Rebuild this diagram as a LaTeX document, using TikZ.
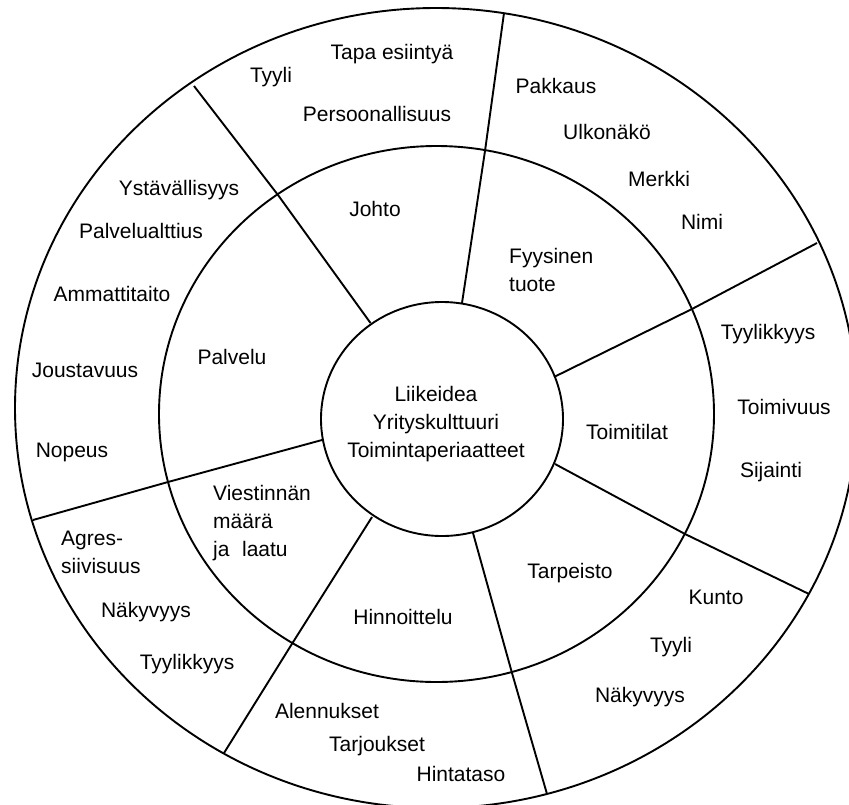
\documentclass[tikz,border=0pt]{standalone}
\usepackage{fontspec}
\setmainfont{Liberation Sans}
\begin{document}
\begin{tikzpicture}[x=1pt,y=-1pt,
  ring/.style={line width=1.9pt},
  spoke/.style={line width=1.9pt, line join=round},
  lbl/.style={font=\fontsize{21}{28}\selectfont, inner sep=0pt, align=center},
  lbll/.style={lbl, align=left, anchor=west}]
\useasboundingbox (0,0) rectangle (849,804);
\clip (0,0) rectangle (849,804);
% rings
\draw[ring] (436,408) ellipse [x radius=421pt, y radius=400pt];
\draw[ring] (436.5,414) ellipse [x radius=277.5pt, y radius=268pt];
\draw[ring] (442,419) ellipse [x radius=121pt, y radius=117pt];
% spoke points
\coordinate (i1) at (370.5,323); \coordinate (m1) at (278,195); \coordinate (o1) at (194,86);
\coordinate (i2) at (462,303);   \coordinate (m2) at (485,151); \coordinate (o2) at (504,13);
\coordinate (i3) at (554,377);   \coordinate (m3) at (692,309); \coordinate (o3) at (817,243);
\coordinate (i4) at (555,464);   \coordinate (m4) at (685,534); \coordinate (o4) at (809,594);
\coordinate (i5) at (473,533);   \coordinate (m5) at (512,673); \coordinate (o5) at (547,794);
\coordinate (i6) at (372,517);   \coordinate (m6) at (292.5,643); \coordinate (o6) at (224,753);
\coordinate (i7) at (322,440);   \coordinate (m7) at (168,482); \coordinate (o7) at (33,520);
\foreach \k in {1,...,7}{\draw[spoke] (i\k) -- (m\k) -- (o\k);}
% center
\node[lbl] (core) at (436,424) {Liikeidea\\Yrityskulttuuri\\Toimintaperiaatteet};
% middle ring
\node[lbl] (johto) at (375,209) {Johto};
\node[lbll] (fyys) at (509,270) {Fyysinen\\tuote};
\node[lbl] (palvelu) at (232,357) {Palvelu};
\node[lbl] (toimitilat) at (627,432) {Toimitilat};
\node[lbll] (viest) at (213,523) {Viestinnän\\määrä\\ja\hspace{0.6em}laatu};
\node[lbl] (tarpeisto) at (570,573) {Tarpeisto};
\node[lbl] (hinn) at (403,617) {Hinnoittelu};
% outer ring
\node[lbl] (tapa) at (392,54) {Tapa esiintyä};
\node[lbl] (tyyli1) at (271,77) {Tyyli};
\node[lbl] (pers) at (377,114) {Persoonallisuus};
\node[lbl] (pakkaus) at (556,86) {Pakkaus};
\node[lbl] (ulko) at (607,132) {Ulkonäkö};
\node[lbl] (merkki) at (659,179) {Merkki};
\node[lbl] (nimi) at (702,222) {Nimi};
\node[lbl] (ystav) at (179,190) {Ystävällisyys};
\node[lbl] (palvalt) at (141,231) {Palvelualttius};
\node[lbl] (ammatti) at (112,294) {Ammattitaito};
\node[lbl] (joust) at (85,370) {Joustavuus};
\node[lbl] (nopeus) at (72,452) {Nopeus};
\node[lbl] (tyylik1) at (768,334) {Tyylikkyys};
\node[lbl] (toimiv) at (784,407) {Toimivuus};
\node[lbl] (sijainti) at (771,472) {Sijainti};
\node[lbll] (agres) at (61,552) {Agres-\\siivisuus};
\node[lbl] (nakyv1) at (146,612) {Näkyvyys};
\node[lbl] (tyylik2) at (187,664) {Tyylikkyys};
\node[lbl] (kunto) at (716,597) {Kunto};
\node[lbl] (tyyli2) at (671,647) {Tyyli};
\node[lbl] (nakyv2) at (640,697) {Näkyvyys};
\node[lbl] (alen) at (327,711) {Alennukset};
\node[lbl] (tarj) at (377,746) {Tarjoukset};
\node[lbl] (hinta) at (461,774) {Hintataso};
\end{tikzpicture}
\end{document}
